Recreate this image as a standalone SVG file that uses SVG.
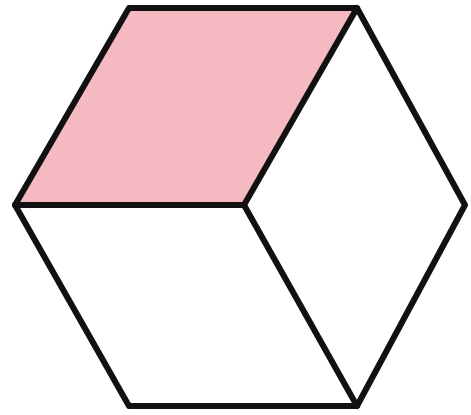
<svg xmlns="http://www.w3.org/2000/svg" width="471" height="415" viewBox="0 0 471 415">
<style>
.e{fill:none;stroke:#111;stroke-width:6;stroke-linejoin:round;stroke-linecap:round}
</style>
<rect width="471" height="415" fill="#fff"/>
<g id="top-face">
<polygon points="129,8 357,8 244,205 15,205" fill="#f5b9c2"/>
</g>
<g id="left-face">
<polygon points="15,205 244,205 357,406 129,406" fill="#fff"/>
</g>
<g id="right-face">
<polygon points="357,8 465,205 357,406 244,205" fill="#fff"/>
</g>
<g id="connectors">
<polygon class="e" points="129,8 357,8 465,205 357,406 129,406 15,205"/>
<polyline class="e" points="15,205 244,205 357,8"/>
<line class="e" x1="244" y1="205" x2="357" y2="406"/>
</g>
</svg>
